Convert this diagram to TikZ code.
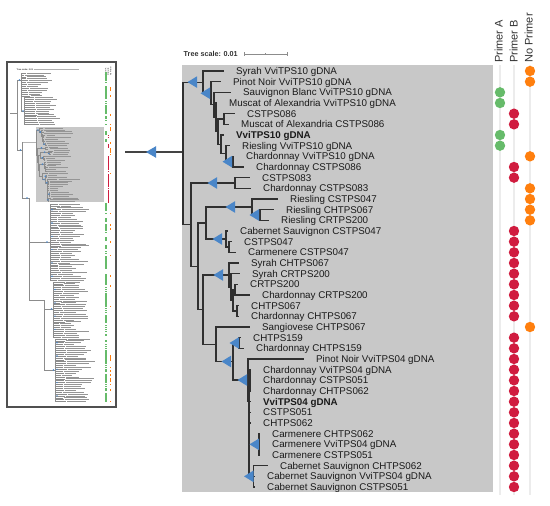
\documentclass[tikz,border=0pt]{standalone}
\usepackage{fontspec}
\setmainfont{Liberation Sans}
\usetikzlibrary{calc}
\definecolor{boxgray}{HTML}{C8C8C8}
\definecolor{treeline}{HTML}{303030}
\definecolor{bootblue}{HTML}{4A86C8}
\definecolor{dotgreen}{HTML}{66BB6A}
\definecolor{dotred}{HTML}{D01C3F}
\definecolor{dotorange}{HTML}{FF7F0E}
\definecolor{guide}{HTML}{ECECEC}
\definecolor{labtext}{HTML}{1A1A1A}
\definecolor{thumbframe}{HTML}{505050}
\definecolor{thumbline}{HTML}{8C8C8C}
\definecolor{thumbtext}{HTML}{959595}
\definecolor{connline}{HTML}{444444}
\definecolor{hdrtext}{HTML}{333333}

\newcommand\boot[2]{\fill[bootblue] ({#1-9.5},{#2}) -- ({#1},{#2-5.8}) -- ({#1},{#2+5.8}) -- cycle;}
\newcommand\tmark[3]{\fill[#1] ({#2-0.8},{#3-0.8}) rectangle ({#2+0.8},{#3+0.8});}

\newcommand\treecoords[1]{%
  \coordinate (#1R) at (183,152);
  \coordinate (#1A) at (203,82.1);
  \coordinate (#1A2) at (211,93.25);
  \coordinate (#1Ab) at (214,104.83);
  \coordinate (#1A3) at (216,117.33);
  \coordinate (#1A4) at (218,131.67);
  \coordinate (#1A5) at (224,119);
  \coordinate (#1A6) at (221,144.33);
  \coordinate (#1A7) at (226,153.67);
  \coordinate (#1A8) at (233,161.67);
  \coordinate (#1B) at (191,224.7);
  \coordinate (#1C1) at (235,183);
  \coordinate (#1D) at (198,266.3);
  \coordinate (#1E) at (206,223);
  \coordinate (#1G) at (252,207);
  \coordinate (#1G2) at (260,215);
  \coordinate (#1H) at (226,239);
  \coordinate (#1H2) at (229,247);
  \coordinate (#1F) at (203,309.6);
  \coordinate (#1I) at (229,275);
  \coordinate (#1I2) at (231,287);
  \coordinate (#1I3) at (233,300.33);
  \coordinate (#1I4) at (235,289.67);
  \coordinate (#1I5) at (237,311);
  \coordinate (#1J) at (216,344.25);
  \coordinate (#1K) at (233,361.5);
  \coordinate (#1LL) at (239,343);
  \coordinate (#1M) at (248,380);
  \coordinate (#1M2) at (249,401);
  \coordinate (#1Q) at (250,380.33);
  \coordinate (#1O) at (259,444.33);
  \coordinate (#1P) at (253.5,476.33);
  \foreach \i/\tx in {1/224,2/221,3/231,4/217,5/235,6/229,7/224,8/230,9/234,10/244,
    11/250,12/251,13/278,14/274,15/269,16/228,17/232,18/236,19/239,20/240,
    21/238,22/250,23/239,24/239,25/250,26/241,27/244,28/304,29/251,30/251,
    31/251,32/251,33/251,34/251,35/260,36/260,37/260,38/268,39/255,40/255}
    {\coordinate (#1L\i) at (\tx,{71+(\i-1)*10.6667});}
}

\newcommand\treeedges[2]{%
  \draw[#2]
    (#1R) |- (#1A)  (#1R) |- (#1B)
    (#1A) |- (#1L1)  (#1A) |- (#1A2)
    (#1A2) |- (#1L2)  (#1A2) |- (#1Ab)
    (#1Ab) |- (#1L3)  (#1Ab) |- (#1A3)
    (#1A3) |- (#1L4)  (#1A3) |- (#1A4)
    (#1A4) |- (#1A5)  (#1A4) |- (#1A6)
    (#1A5) |- (#1L5)  (#1A5) |- (#1L6)
    (#1A6) |- (#1L7)  (#1A6) |- (#1A7)
    (#1A7) |- (#1L8)  (#1A7) |- (#1A8)
    (#1A8) |- (#1L9)  (#1A8) |- (#1L10)
    (#1B) |- (#1C1)  (#1B) |- (#1D)
    (#1C1) |- (#1L11)  (#1C1) |- (#1L12)
    (#1D) |- (#1E)  (#1D) |- (#1F)
    (#1E) |- (#1G)  (#1E) |- (#1H)
    (#1G) |- (#1L13)  (#1G) |- (#1G2)
    (#1G2) |- (#1L14)  (#1G2) |- (#1L15)
    (#1H) |- (#1L16)  (#1H) |- (#1H2)
    (#1H2) |- (#1L17)  (#1H2) |- (#1L18)
    (#1F) |- (#1I)  (#1F) |- (#1J)
    (#1I) |- (#1L19)  (#1I) |- (#1I2)
    (#1I2) |- (#1L20)  (#1I2) |- (#1I3)
    (#1I3) |- (#1I4)  (#1I3) |- (#1I5)
    (#1I4) |- (#1L21)  (#1I4) |- (#1L22)
    (#1I5) |- (#1L23)  (#1I5) |- (#1L24)
    (#1J) |- (#1L25)  (#1J) |- (#1K)
    (#1K) |- (#1LL)  (#1K) |- (#1M)
    (#1LL) |- (#1L26)  (#1LL) |- (#1L27)
    (#1M) |- (#1L28)  (#1M) |- (#1M2)
    (#1M2) |- (#1Q)  (#1M2) |- (#1L32)  (#1M2) |- (#1L33)  (#1M2) |- (#1L34)
    (#1M2) |- (#1O)  (#1M2) |- (#1P)
    (#1Q) |- (#1L29)  (#1Q) |- (#1L30)  (#1Q) |- (#1L31)
    (#1O) |- (#1L35)  (#1O) |- (#1L36)  (#1O) |- (#1L37)
    (#1P) |- (#1L38)  (#1P) |- (#1L39)  (#1P) |- (#1L40);
}

\newcommand\bootmarks{%
  \boot{197}{82.1}\boot{210}{93.25}\boot{232}{161.67}\boot{217}{183}
  \boot{235}{207}\boot{259}{215}\boot{222}{239}\boot{223}{275}
  \boot{239}{343}\boot{231}{361.5}\boot{247}{380}\boot{259}{444.33}
  \boot{253.5}{476.33}}

\begin{document}
\begin{tikzpicture}[x=1pt,y=-1pt,
  lab/.style={anchor=west,inner sep=0pt,text=labtext,font=\fontsize{9.8}{10}\selectfont,text height=7pt,text depth=0pt},
  hdr/.style={rotate=90,anchor=west,inner sep=0pt,text=hdrtext,font=\fontsize{11}{11}\selectfont,text height=8pt,text depth=0pt},
  treeedge/.style={draw=treeline,line width=1.2pt},
  tedge/.style={draw=thumbline,line width=0.45pt},
  tline/.style={draw=thumbline,line width=0.45pt},
  ttext/.style={draw=thumbtext,line width=0.8pt},
  guideline/.style={draw=guide,line width=1.3pt},
  conn/.style={draw=connline,line width=1.5pt}]
\fill[white] (0,0) rectangle (550,506);
\useasboundingbox (0,0) rectangle (550,506);

% ---------- thumbnail ----------
\draw[draw=thumbframe,line width=1.4pt,fill=white] (7,62) rectangle (116,407);
\fill[boxgray] (36,127) rectangle (104,202);
\node[anchor=west,inner sep=0pt,font=\bfseries\fontsize{2.2}{2.4}\selectfont,text=hdrtext] (ttscale) at (16.5,69.3) {Tree scale: 0.01};
\draw[draw=thumbline!70,line width=0.35pt] (33.5,69.3) -- (79,69.3);
\node[rotate=90,anchor=west,inner sep=0pt,font=\fontsize{1.9}{2}\selectfont] (thA) at (105.7,76) {Primer A};
\node[rotate=90,anchor=west,inner sep=0pt,font=\fontsize{1.9}{2}\selectfont] (thB) at (108.2,76) {Primer B};
\node[rotate=90,anchor=west,inner sep=0pt,font=\fontsize{1.9}{2}\selectfont] (thN) at (110.7,76) {No Primer};

% thumbnail skeleton
\draw[tline] (10,113) -- (17,113) (17,80) -- (17,150)
  (17,80) -- (21,80) (21,73) -- (21,111) (21,111) -- (24,111) (24,97.7) -- (24,124.3)
  (17,150) -- (22,150) (22,142.4) -- (22,198)
  (22,198) -- (29,198) (29,198) -- (29,300) (29,242) -- (50,242) (50,204) -- (50,280)
  (29,300) -- (44,300) (44,300) -- (44,370) (44,309) -- (53,309) (53,282) -- (53,337)
  (44,370) -- (55,370) (55,339) -- (55,402);
\fill[bootblue] (19.5,80) circle (0.9) (23,111) circle (0.9) (47,242) circle (0.9)
  (51.5,309) circle (0.9) (53.5,370) circle (0.9) (20.5,150) circle (0.9) (27,198) circle (0.9);

\pgfmathsetseed{11}
\foreach \k in {0,...,27}{
  \pgfmathsetmacro\ty{73+1.9*\k}
  \pgfmathsetmacro\sx{ifthenelse(\k<13,21,24)}
  \pgfmathsetmacro\tx{ifthenelse(\k<13,24,28)+0.3*\k+3*rnd}
  \pgfmathsetmacro\tl{10+15*rnd}
  \draw[tline] (\sx,\ty) -- (\tx,\ty);
  \draw[ttext] ({\tx+1},\ty) -- ++(\tl,0);
  \pgfmathsetmacro\rg{rnd}
  \ifdim\rg pt<0.8pt \tmark{dotgreen}{106}{\ty}\fi
  \pgfmathsetmacro\ro{rnd}
  \ifdim\ro pt<0.14pt \tmark{dotorange}{110.5}{\ty}\fi
}
\foreach \k in {0,...,104}{
  \pgfmathsetmacro\ty{204+1.9*\k}
  \pgfmathsetmacro\sx{ifthenelse(\k<41,50,ifthenelse(\k<71,53,55))}
  \pgfmathsetmacro\tx{\sx+6+6*rnd}
  \pgfmathsetmacro\tl{10+18*rnd}
  \draw[tline] (\sx,\ty) -- (\tx,\ty);
  \draw[ttext] ({\tx+1},\ty) -- ++(\tl,0);
  \pgfmathtruncatemacro\bm{mod(\k,7)}
  \ifnum\bm=3 \fill[bootblue] ({\sx+2},\ty) circle (0.8);\fi
  \pgfmathsetmacro\rg{rnd}
  \ifdim\rg pt<0.78pt \tmark{dotgreen}{106}{\ty}\fi
  \pgfmathsetmacro\ro{rnd}
  \ifdim\ro pt<0.16pt \tmark{dotorange}{110.5}{\ty}\fi
}

% highlighted subtree, redrawn small
\begin{scope}[shift={(3.61,115.5)},scale=0.177]
  \treecoords{t}
  \treeedges{t}{tedge}
  \bootmarks
\end{scope}
\draw[tline] (22,142.4) -- (tR);
\foreach \i in {3,4,7,8} {\tmark{dotgreen}{106}{115.5+0.177*(71+(\i-1)*10.6667)}}
\foreach \i in {5,6,10,11,16,17,18,19,20,21,22,23,24,26,27,28,29,30,31,32,33,34,35,36,37,38,39,40}
  {\tmark{dotred}{108.5}{115.5+0.177*(71+(\i-1)*10.6667)}}
\foreach \i in {1,2,9,12,13,14,15,25} {\tmark{dotorange}{110.5}{115.5+0.177*(71+(\i-1)*10.6667)}}

% ---------- connector ----------
\coordinate (cstart) at (125,152);
\treecoords{m}
\draw[conn] (cstart) -- (mR);
\fill[bootblue] (146,152) -- (156,146.2) -- (156,157.8) -- cycle;

% ---------- main panel ----------
\fill[boxgray] (182,65) rectangle (493,492);
\node[anchor=west,inner sep=0pt,font=\bfseries\fontsize{7.2}{8}\selectfont,text=hdrtext,text height=5pt,text depth=0pt] (tscale) at (183.5,54) {Tree scale: 0.01};
\draw[draw=thumbline,line width=0.6pt] (244,54) -- (287,54) (244,52) -- (244,56) (265.5,53) -- (265.5,55) (287,52) -- (287,56);

\draw[guideline] (500,65) -- (500,495) (514,65) -- (514,495) (530,65) -- (530,495);
\node[hdr] (hA) at (498.5,63) {Primer A};
\node[hdr] (hB) at (513.5,63) {Primer B};
\node[hdr] (hN) at (528.5,63) {No Primer};

\treeedges{m}{treeedge}
\bootmarks

\foreach \i/\txt in {
1/Syrah VviTPS10 gDNA,
2/Pinot Noir VviTPS10 gDNA,
3/Sauvignon Blanc VviTPS10 gDNA,
4/Muscat of Alexandria VviTPS10 gDNA,
5/CSTPS086,
6/Muscat of Alexandria CSTPS086,
7/\textbf{VviTPS10 gDNA},
8/Riesling VviTPS10 gDNA,
9/Chardonnay VviTPS10 gDNA,
10/Chardonnay CSTPS086,
11/CSTPS083,
12/Chardonnay CSTPS083,
13/Riesling CSTPS047,
14/Riesling CHTPS067,
15/Riesling CRTPS200,
16/Cabernet Sauvignon CSTPS047,
17/CSTPS047,
18/Carmenere CSTPS047,
19/Syrah CHTPS067,
20/Syrah CRTPS200,
21/CRTPS200,
22/Chardonnay CRTPS200,
23/CHTPS067,
24/Chardonnay CHTPS067,
25/Sangiovese CHTPS067,
26/CHTPS159,
27/Chardonnay CHTPS159,
28/Pinot Noir VviTPS04 gDNA,
29/Chardonnay VviTPS04 gDNA,
30/Chardonnay CSTPS051,
31/Chardonnay CHTPS062,
32/\textbf{VviTPS04 gDNA},
33/CSTPS051,
34/CHTPS062,
35/Carmenere CHTPS062,
36/Carmenere VviTPS04 gDNA,
37/Carmenere CSTPS051,
38/Cabernet Sauvignon CHTPS062,
39/Cabernet Sauvignon VviTPS04 gDNA,
40/Cabernet Sauvignon CSTPS051}
{\node[lab] (T\i) at ([xshift=12pt]mL\i) {\txt};}

% thumbnail label bars for the highlighted subtree
\foreach \i in {1,...,40}{
  \draw[ttext] let \p1=($(T\i.east)-(T\i.west)$) in ([xshift=1.5pt]tL\i) -- ++({0.177*\x1},0pt);
}

% dots
\foreach \i in {3,4,7,8} {\fill[dotgreen] (500,{71+(\i-1)*10.6667}) circle (5.2);}
\foreach \i in {5,6,10,11,16,17,18,19,20,21,22,23,24,26,27,28,29,30,31,32,33,34,35,36,37,38,39,40}
  {\fill[dotred] (514,{71+(\i-1)*10.6667}) circle (5.2);}
\foreach \i in {1,2,9,12,13,14,15,25} {\fill[dotorange] (530,{71+(\i-1)*10.6667}) circle (5.2);}
\end{tikzpicture}
\end{document}
